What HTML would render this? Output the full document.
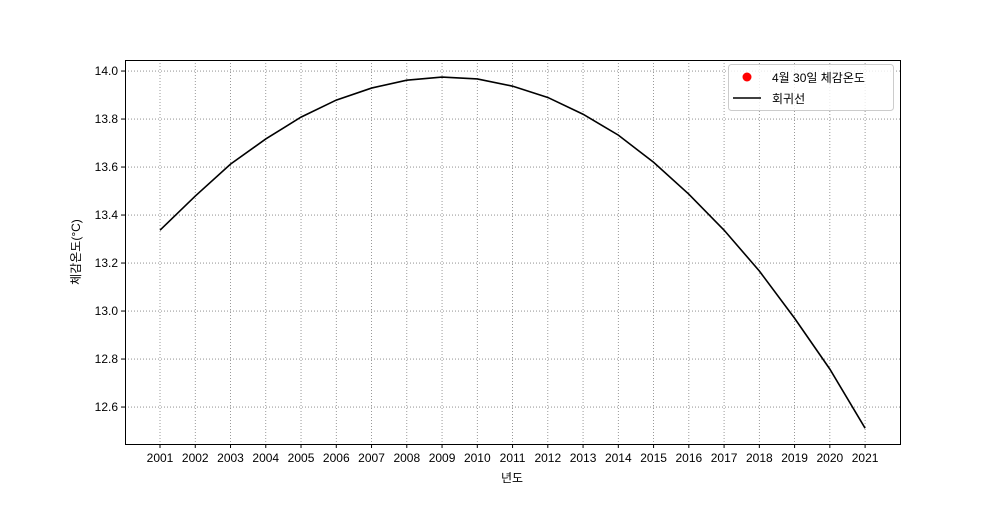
<!DOCTYPE html>
<html><head><meta charset="utf-8"><style>
body{margin:0;background:#fff}
svg text{font-family:"Liberation Sans","Noto Sans CJK KR",sans-serif;font-size:12px;fill:#000}
</style></head><body>
<svg id="chart" width="1000" height="500" xmlns="http://www.w3.org/2000/svg">
<rect width="1000" height="500" fill="#fff"/>
<g id="grid"></g>
<g id="ticks"></g>
<g id="plot"></g>
<rect x="125.5" y="60.5" width="775" height="384" fill="none" stroke="#000" stroke-width="1"/>
<text x="512" y="482" text-anchor="middle">년도</text>
<text transform="translate(80,252) rotate(-90)" text-anchor="middle">체감온도(°C)</text>
<g>
<rect x="728.5" y="64.5" width="165" height="46" rx="3" fill="#fff" fill-opacity="0.8" stroke="#ccc"/>
<circle cx="747" cy="77" r="4.5" fill="#ff0000"/>
<text x="772" y="82">4월 30일 체감온도</text>
<line x1="733" y1="98" x2="761" y2="98" stroke="#000" stroke-width="1.5"/>
<text x="772" y="103">회귀선</text>
</g>
</svg>
<script>
const years=[2001,2002,2003,2004,2005,2006,2007,2008,2009,2010,2011,2012,2013,2014,2015,2016,2017,2018,2019,2020,2021];
const fitValues=[13.337,13.479,13.612,13.717,13.808,13.879,13.929,13.962,13.975,13.967,13.937,13.89,13.82,13.733,13.62,13.487,13.337,13.167,12.97,12.758,12.512];
const yTicks=[12.6,12.8,13.0,13.2,13.4,13.6,13.8,14.0];
const NS="http://www.w3.org/2000/svg";
const L=125,R=900,T=60,B=444,xMin=2000.007,xMax=2021.99,yMin=12.446,yMax=14.046;
const xs=v=>L+(v-xMin)/(xMax-xMin)*(R-L);
const ys=v=>B-(v-yMin)/(yMax-yMin)*(B-T);
function mk(t,a,p){const e=document.createElementNS(NS,t);for(const k in a)e.setAttribute(k,a[k]);p.appendChild(e);return e;}
const grid=document.getElementById('grid'),ticks=document.getElementById('ticks'),plot=document.getElementById('plot');
years.forEach(y=>{const x=xs(y);
const g=mk('line',{x1:x,x2:x,y1:T,y2:B,stroke:'#808080','stroke-dasharray':'1,2','stroke-width':0.8},grid);


mk('line',{x1:x,x2:x,y1:B,y2:B+4,stroke:'#000'},ticks);
const t=mk('text',{x:x,y:B+18,'text-anchor':'middle'},ticks);t.textContent=y;

});
yTicks.forEach(v=>{const y=ys(v);
const g=mk('line',{x1:L,x2:R,y1:y,y2:y,stroke:'#808080','stroke-dasharray':'1,2','stroke-width':0.8},grid);


mk('line',{x1:L-4,x2:L,y1:y,y2:y,stroke:'#000'},ticks);
const t=mk('text',{x:L-7,y:y+4,'text-anchor':'end'},ticks);t.textContent=v.toFixed(1);

});
const pts=years.map((y,i)=>xs(y)+','+ys(fitValues[i])).join(' ');
const line=mk('polyline',{points:pts,fill:'none',stroke:'#000','stroke-width':1.6},plot);


</script>
</body></html>
